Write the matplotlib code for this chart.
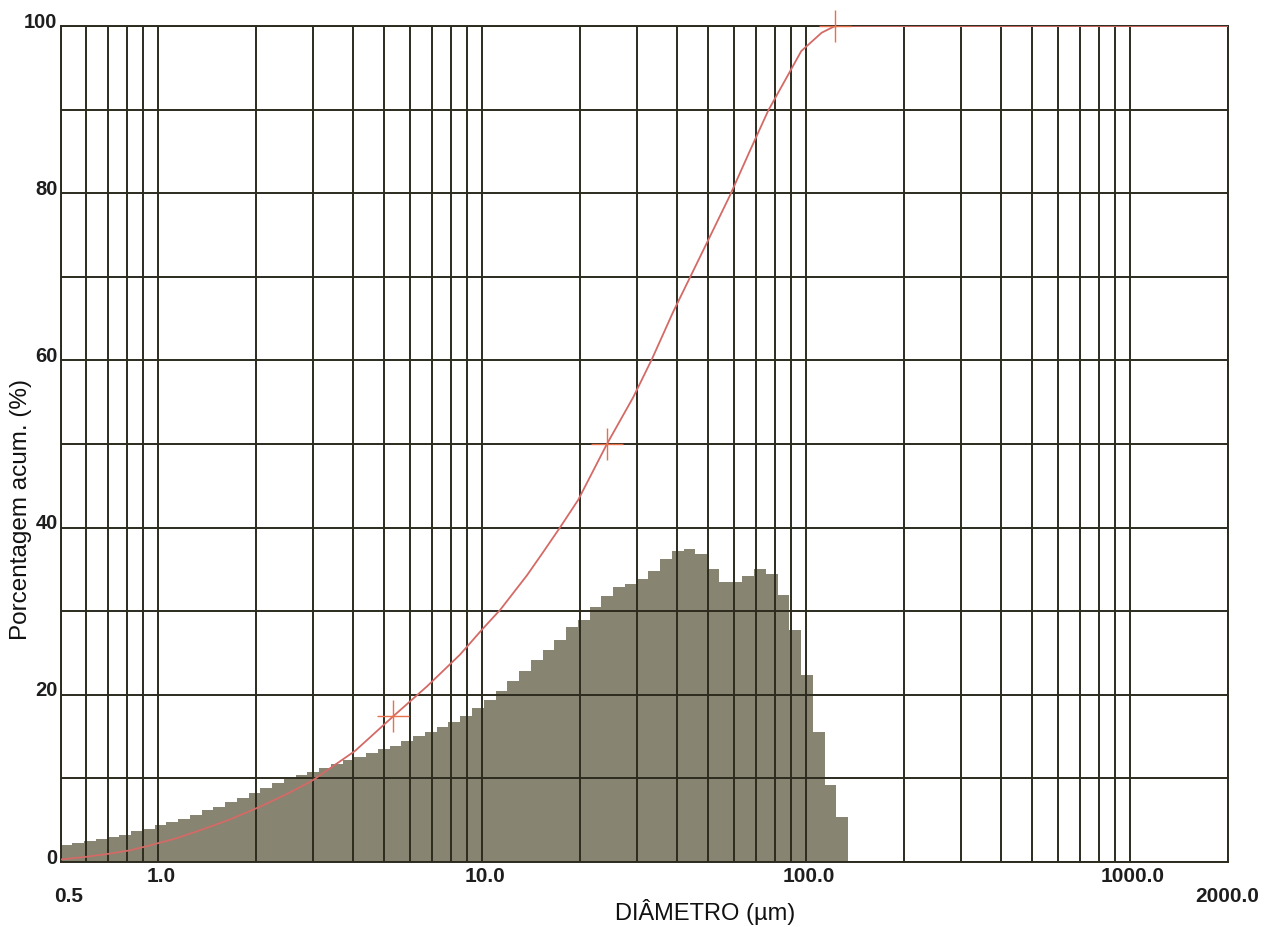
import numpy as np
import matplotlib
matplotlib.use("Agg")
import matplotlib.pyplot as plt
from matplotlib.ticker import LogLocator, NullFormatter, FixedLocator
import matplotlib.transforms as mtransforms

plt.rcParams['font.family'] = ['Liberation Sans', 'DejaVu Sans']

# ---- data ----
# histogram: class heights (plotted on the % scale), geometric classes 0.5 .. 135 um
hist_min_um = 0.5
hist_max_um = 135.0
hist_heights = [2.0, 2.3, 2.5, 2.7, 3.0, 3.2, 3.7, 4.0, 4.4, 4.8,
                5.2, 5.6, 6.2, 6.6, 7.2, 7.7, 8.3, 8.9, 9.5, 9.9,
                10.4, 10.8, 11.2, 11.7, 12.2, 12.6, 13.0, 13.5, 13.9, 14.5,
                15.1, 15.6, 16.2, 16.8, 17.5, 18.4, 19.4, 20.4, 21.6, 22.8,
                24.2, 25.4, 26.6, 28.1, 29.0, 30.5, 31.8, 32.9, 33.2, 33.8,
                34.8, 36.2, 37.2, 37.4, 36.8, 35.0, 33.5, 33.5, 34.2, 35.1,
                34.5, 31.9, 27.8, 22.4, 15.5, 9.2, 5.4]

# cumulative curve
cum_diam = [0.5, 0.595, 0.71, 0.82, 0.925, 1.13, 1.35, 1.67, 2.06, 2.55,
            3.01, 4.06, 5.31, 6.76, 8.55, 10.0, 11.4, 13.77, 15.4, 17.4,
            19.8, 24.3, 29.3, 33.5, 38.9, 48.5, 58.2, 67.0, 76.5, 87.9,
            96.7, 111.8, 123.0, 2000.0]
cum_pct = [0.3, 0.6, 1.0, 1.4, 1.9, 2.8, 3.8, 5.1, 6.6, 8.3,
           9.8, 13.3, 17.4, 21.0, 24.8, 27.8, 30.2, 34.3, 37.0, 40.0,
           43.3, 50.0, 55.6, 60.2, 65.8, 73.4, 79.7, 85.0, 89.9, 94.1,
           97.0, 99.2, 100.0, 100.0]

# marked points on the cumulative curve
mark_diam = [5.3, 24.3, 123.0]
mark_pct = [17.5, 50.0, 100.0]

y_label_vals = [0, 20, 40, 60, 80, 100]
x_label_vals_top = [1.0, 10.0, 100.0, 1000.0]
x_label_vals_low = [0.5, 2000.0]

# ---- figure ----
W, H = 1264, 927
fig = plt.figure(figsize=(W / 100, H / 100), dpi=100)
ax = fig.add_axes([60.5 / W, 1 - 862 / H, 1167 / W, 836 / H])

grid_col = '#2c2b1e'
ax.set_xscale('log')
ax.set_xlim(0.5, 2000)
ax.set_ylim(0, 100)

# histogram
edges = np.geomspace(hist_min_um, hist_max_um, len(hist_heights) + 1)
ax.stairs(hist_heights, edges, fill=True, color='#878472', zorder=1,
          linewidth=0)

# grid
ax.xaxis.set_major_locator(LogLocator(base=10, subs=(1.0,)))
ax.xaxis.set_minor_locator(LogLocator(base=10, subs=np.arange(2, 10)))
ax.yaxis.set_major_locator(FixedLocator(np.arange(0, 101, 10)))
ax.xaxis.set_major_formatter(NullFormatter())
ax.xaxis.set_minor_formatter(NullFormatter())
ax.yaxis.set_major_formatter(NullFormatter())
ax.tick_params(which='both', length=0)
ax.set_axisbelow(False)
ax.grid(True, which='both', axis='x', color=grid_col, linewidth=1.4)
ax.grid(True, which='major', axis='y', color=grid_col, linewidth=1.4)
for s in ax.spines.values():
    s.set_color(grid_col)
    s.set_linewidth(1.4)

# cumulative curve and markers
ax.plot(cum_diam, cum_pct, color='#d46a66', linewidth=1.3, zorder=4,
        solid_joinstyle='round')
ax.plot(mark_diam, mark_pct, linestyle='none', marker='+', markersize=23,
        markeredgewidth=1.0, color='#e8704a', zorder=5, clip_on=False)

# tick labels (manual)
ytr = mtransforms.blended_transform_factory(ax.transAxes, ax.transData)
for v in y_label_vals:
    ax.annotate(str(v), xy=(0, v), xycoords=ytr, xytext=(-3, 4),
                textcoords='offset pixels', ha='right', va='center',
                fontsize=14.5, fontweight='bold', color='#1e1e1e')
xtr = mtransforms.blended_transform_factory(ax.transData, ax.transAxes)
for v in x_label_vals_top:
    ax.annotate(f"{v:.1f}", xy=(v, 0), xycoords=xtr, xytext=(3, -15),
                textcoords='offset pixels', ha='center', va='center',
                fontsize=15, fontweight='bold', color='#1e1e1e')
for v in x_label_vals_low:
    dx = 8 if v < 1 else 0
    ax.annotate(f"{v:.1f}", xy=(v, 0), xycoords=xtr, xytext=(dx, -35),
                textcoords='offset pixels', ha='center', va='center',
                fontsize=15, fontweight='bold', color='#1e1e1e')

# axis labels
fig.text(705 / W, 1 - 912 / H, 'DIÂMETRO (µm)', ha='center', va='center',
         fontsize=17, color='#111111')
fig.text(21 / W, 1 - 510 / H, 'Porcentagem acum. (%)', ha='center', va='center',
         rotation=90, fontsize=17.5, color='#111111')

fig.savefig('out.png', dpi=100, facecolor='white')
